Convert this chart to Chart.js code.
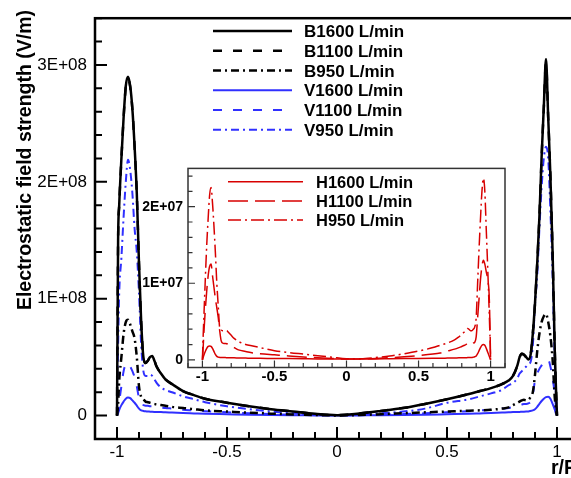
<!DOCTYPE html>
<html lang="en">

<head>
    <meta charset="UTF-8" />
    <title>Electrostatic field strength</title>
    <script src="https://cdn.jsdelivr.net/npm/chart.js"></script>
    <style>
        body {
            margin: 0;
            background: #fff;
        }

        .figure {
            position: relative;
            width: 571px;
            height: 478px;
            overflow: hidden;
        }

        #mainChart {
            position: absolute;
            left: 0;
            top: 0;
        }

        #insetChart {
            position: absolute;
            left: 130px;
            top: 155px;
        }
    </style>
</head>

<body>
    <div class="figure">
        <canvas id="mainChart" width="600" height="478"></canvas>
        <canvas id="insetChart" width="385" height="235"></canvas>
    </div>

    <script>
        // r/R positions shared by every curve
        const radius = [-1, -0.995, -0.99, -0.98, -0.97, -0.96, -0.95, -0.94, -0.93, -0.92, -0.91, -0.9,
            -0.89, -0.88, -0.87, -0.86, -0.85, -0.84, -0.83, -0.82, -0.8, -0.78, -0.75, -0.7, -0.65, -0.6,
            -0.5, -0.4, -0.3, -0.2, -0.1, 0,
            0.1, 0.2, 0.3, 0.4, 0.5, 0.6, 0.65, 0.7, 0.75, 0.78, 0.8, 0.82, 0.83, 0.84, 0.85, 0.86, 0.87,
            0.88, 0.89, 0.9, 0.91, 0.92, 0.93, 0.94, 0.95, 0.96, 0.97, 0.98, 0.99, 0.995, 1];

        // Main plot, values in 1E+08 V/m
        const b1600 = [0, 1.5, 1.8, 2.2, 2.55, 2.82, 2.9, 2.82, 2.62, 2.3, 1.9, 1.3,
            0.8, 0.5, 0.45, 0.47, 0.5, 0.51, 0.47, 0.42, 0.36, 0.31, 0.27, 0.21, 0.175, 0.145,
            0.11, 0.08, 0.055, 0.035, 0.015, 0.004,
            0.018, 0.04, 0.065, 0.1, 0.14, 0.185, 0.21, 0.235, 0.27, 0.3, 0.34, 0.43, 0.5, 0.53, 0.52, 0.5, 0.48,
            0.52, 0.7, 0.96, 1.3, 1.7, 2.21, 2.64, 3.05, 2.55, 2.05, 1.4, 0.55, 0.25, 0];
        const b1100 = [0, 1.5, 1.8, 2.2, 2.55, 2.81, 2.88, 2.81, 2.62, 2.3, 1.9, 1.3,
            0.8, 0.5, 0.45, 0.47, 0.5, 0.51, 0.47, 0.42, 0.36, 0.31, 0.27, 0.21, 0.175, 0.145,
            0.11, 0.08, 0.055, 0.035, 0.015, 0.004,
            0.018, 0.04, 0.065, 0.1, 0.14, 0.185, 0.21, 0.235, 0.27, 0.3, 0.34, 0.43, 0.5, 0.53, 0.52, 0.5, 0.48,
            0.52, 0.7, 0.96, 1.3, 1.7, 2.21, 2.63, 3.02, 2.55, 2.05, 1.4, 0.55, 0.25, 0];
        const b950 = [0, 0.1, 0.3, 0.5, 0.7, 0.8, 0.82, 0.78, 0.72, 0.66, 0.5, 0.25,
            0.16, 0.14, 0.12, 0.115, 0.11, 0.105, 0.1, 0.095, 0.09, 0.085, 0.075, 0.065, 0.055, 0.045,
            0.035, 0.025, 0.017, 0.01, 0.005, 0.002,
            0.005, 0.012, 0.02, 0.028, 0.035, 0.042, 0.045, 0.05, 0.06, 0.07, 0.09, 0.11, 0.12, 0.13, 0.135, 0.13, 0.135,
            0.16, 0.2, 0.35, 0.55, 0.7, 0.8, 0.85, 0.87, 0.8, 0.68, 0.48, 0.15, 0.06, 0];
        const v1600 = [0, 0.02, 0.05, 0.09, 0.12, 0.145, 0.155, 0.15, 0.13, 0.11, 0.085, 0.06,
            0.045, 0.04, 0.037, 0.035, 0.034, 0.033, 0.032, 0.031, 0.03, 0.028, 0.026, 0.022, 0.019, 0.016,
            0.012, 0.008, 0.005, 0.003, 0.002, 0.001,
            0.002, 0.003, 0.005, 0.008, 0.012, 0.016, 0.019, 0.022, 0.026, 0.028, 0.03, 0.031, 0.032, 0.033, 0.034, 0.035, 0.036,
            0.04, 0.045, 0.055, 0.075, 0.1, 0.125, 0.145, 0.158, 0.162, 0.145, 0.1, 0.05, 0.02, 0];
        const v1100 = [0, 0.05, 0.12, 0.25, 0.38, 0.44, 0.45, 0.42, 0.38, 0.33, 0.25, 0.15,
            0.1, 0.09, 0.085, 0.085, 0.08, 0.08, 0.078, 0.075, 0.07, 0.065, 0.06, 0.05, 0.045, 0.038,
            0.028, 0.02, 0.013, 0.008, 0.004, 0.002,
            0.004, 0.008, 0.013, 0.02, 0.028, 0.038, 0.045, 0.05, 0.06, 0.065, 0.075, 0.085, 0.09, 0.095, 0.1, 0.1, 0.105,
            0.12, 0.18, 0.3, 0.36, 0.4, 0.43, 0.46, 0.48, 0.48, 0.42, 0.32, 0.18, 0.08, 0];
        const v950 = [0, 0.6, 1.05, 1.35, 1.7, 2.0, 2.19, 2.1, 1.9, 1.6, 1.4, 1.05,
            0.6, 0.38, 0.34, 0.34, 0.35, 0.34, 0.31, 0.28, 0.24, 0.22, 0.2, 0.165, 0.14, 0.115,
            0.08, 0.055, 0.035, 0.02, 0.01, 0.003,
            0.01, 0.02, 0.035, 0.06, 0.11, 0.14, 0.165, 0.19, 0.22, 0.26, 0.28, 0.32, 0.36, 0.38, 0.4, 0.42, 0.44,
            0.46, 0.6, 0.95, 1.2, 1.6, 1.95, 2.2, 2.3, 2.2, 1.75, 1.2, 0.45, 0.18, 0];

        // Inset, values in 1E+07 V/m
        const h1600 = [0, 0.03, 0.06, 0.11, 0.15, 0.175, 0.18, 0.175, 0.15, 0.11, 0.07, 0.045,
            0.035, 0.032, 0.03, 0.03, 0.029, 0.029, 0.028, 0.028, 0.027, 0.026, 0.025, 0.023, 0.021, 0.02,
            0.018, 0.016, 0.014, 0.012, 0.011, 0.01,
            0.011, 0.012, 0.014, 0.016, 0.018, 0.02, 0.021, 0.023, 0.025, 0.026, 0.027, 0.028, 0.028, 0.029, 0.03, 0.03, 0.032,
            0.035, 0.04, 0.05, 0.08, 0.12, 0.16, 0.19, 0.2, 0.19, 0.15, 0.1, 0.05, 0.025, 0];
        const h1100 = [0, 0.15, 0.35, 0.65, 0.9, 1.1, 1.22, 1.25, 1.1, 0.95, 0.8, 0.68,
            0.55, 0.38, 0.25, 0.22, 0.215, 0.215, 0.21, 0.2, 0.18, 0.16, 0.13, 0.11, 0.09, 0.08,
            0.065, 0.05, 0.038, 0.028, 0.018, 0.01,
            0.01, 0.018, 0.028, 0.04, 0.055, 0.075, 0.09, 0.115, 0.14, 0.16, 0.175, 0.19, 0.2, 0.22, 0.22, 0.21, 0.21,
            0.22, 0.23, 0.3, 0.55, 0.8, 1.05, 1.22, 1.3, 1.25, 1.15, 1.05, 0.85, 0.5, 0];
        const h950 = [0, 0.3, 0.55, 1.05, 1.5, 1.85, 2.15, 2.25, 2.05, 1.75, 1.4, 1.0,
            0.7, 0.42, 0.39, 0.38, 0.38, 0.385, 0.38, 0.36, 0.32, 0.28, 0.24, 0.2, 0.18, 0.16,
            0.12, 0.095, 0.075, 0.055, 0.035, 0.015,
            0.015, 0.03, 0.05, 0.08, 0.115, 0.16, 0.19, 0.22, 0.26, 0.3, 0.33, 0.37, 0.39, 0.41, 0.4, 0.38, 0.38,
            0.4, 0.43, 0.55, 1.0, 1.45, 1.85, 2.2, 2.37, 2.2, 1.7, 1.2, 0.65, 0.35, 0];

        // Tick positions and labels
        const mainXTicks = [-1, -0.5, 0, 0.5, 1];
        const mainXLabels = ["-1", "-0.5", "0", "0.5", "1"];
        const mainYTicks = [0, 1e8, 2e8, 3e8];
        const mainYLabels = ["0", "1E+08", "2E+08", "3E+08"];
        const insetXTicks = [-1, -0.5, 0, 0.5, 1];
        const insetXLabels = ["-1", "-0.5", "0", "0.5", "1"];
        const insetYTicks = [0, 1e7, 2e7];
        const insetYLabels = ["0", "1E+07", "2E+07"];

        const mainNames = ["B1600 L/min", "B1100 L/min", "B950 L/min", "V1600 L/min", "V1100 L/min", "V950 L/min"];
        const insetNames = ["H1600 L/min", "H1100 L/min", "H950 L/min"];

        const FONT = "'Liberation Sans', Arial, sans-serif";
        const BLACK = "#000000";
        const BLUE = "#3030ff";
        const RED = "#d80000";

        function lineSet(label, values, unit, color, dash, width) {
            return {
                label: label,
                data: radius.map((r, i) => ({ x: r, y: values[i] * unit })),
                borderColor: color,
                borderDash: dash,
                borderWidth: width,
                pointRadius: 0,
                fill: false,
                cubicInterpolationMode: "monotone",
            };
        }

        // frame, inward ticks, legend and axis titles drawn on the canvas
        const figureFrame = {
            id: "figureFrame",
            beforeDraw(chart, args, opts) {
                if (!opts.background) return;
                const a = chart.chartArea;
                const ctx = chart.ctx;
                ctx.save();
                ctx.fillStyle = opts.background;
                ctx.fillRect(a.left, a.top, a.right - a.left, a.bottom - a.top);
                ctx.restore();
            },
            afterDraw(chart, args, opts) {
                const ctx = chart.ctx;
                const a = chart.chartArea;
                const xs = chart.scales.x;
                const ys = chart.scales.y;
                ctx.save();
                ctx.strokeStyle = opts.color;
                ctx.lineWidth = opts.tickWidth;
                ctx.beginPath();
                for (let k = Math.ceil(xs.min / opts.xMinor - 1e-6); k * opts.xMinor <= xs.max + 1e-9; k++) {
                    const v = k * opts.xMinor;
                    const q = v / opts.xMajor;
                    const len = Math.abs(q - Math.round(q)) < 1e-6 ? opts.major : opts.minor;
                    const px = xs.getPixelForValue(v);
                    ctx.moveTo(px, a.bottom);
                    ctx.lineTo(px, a.bottom - len);
                }
                for (let k = Math.ceil(ys.min / opts.yMinor - 1e-6); k * opts.yMinor <= ys.max + 1e-3; k++) {
                    const v = k * opts.yMinor;
                    const q = v / opts.yMajor;
                    const len = Math.abs(q - Math.round(q)) < 1e-6 ? opts.major : opts.minor;
                    const py = ys.getPixelForValue(v);
                    ctx.moveTo(a.left, py);
                    ctx.lineTo(a.left + len, py);
                }
                ctx.stroke();
                ctx.lineWidth = opts.frameWidth;
                ctx.strokeRect(a.left, a.top, a.right - a.left, a.bottom - a.top);

                // legend
                const lg = opts.legend;
                ctx.font = lg.font;
                ctx.fillStyle = "#000";
                ctx.textAlign = "left";
                ctx.textBaseline = "alphabetic";
                chart.data.datasets.forEach((ds, i) => {
                    const y = lg.y0 + i * lg.step;
                    ctx.strokeStyle = ds.borderColor;
                    ctx.lineWidth = ds.borderWidth;
                    ctx.setLineDash(ds.borderDash || []);
                    ctx.beginPath();
                    ctx.moveTo(lg.x0, y);
                    ctx.lineTo(lg.x1, y);
                    ctx.stroke();
                    ctx.setLineDash([]);
                    ctx.fillText(ds.label, lg.textX, y + lg.shift);
                });

                // axis titles
                (opts.titles || []).forEach((t) => {
                    ctx.save();
                    ctx.font = t.font;
                    ctx.fillStyle = "#000";
                    ctx.textAlign = t.align;
                    ctx.translate(t.x, t.y);
                    ctx.rotate(t.angle);
                    ctx.fillText(t.text, 0, 0);
                    ctx.restore();
                });
                ctx.restore();
            },
        };

        // Main chart configuration
        const mainConfig = {
            type: "line",
            data: {
                datasets: [
                    lineSet(mainNames[0], b1600, 1e8, BLACK, [], 2.5),
                    lineSet(mainNames[1], b1100, 1e8, BLACK, [9, 11], 2.5),
                    lineSet(mainNames[2], b950, 1e8, BLACK, [8, 4, 2, 4], 2.5),
                    lineSet(mainNames[3], v1600, 1e8, BLUE, [], 2),
                    lineSet(mainNames[4], v1100, 1e8, BLUE, [9, 11], 2),
                    lineSet(mainNames[5], v950, 1e8, BLUE, [8, 4, 2, 4], 2),
                ],
            },
            options: {
                responsive: false,
                animation: false,
                devicePixelRatio: 1,
                layout: { padding: { top: 9, right: 21, left: 0, bottom: 0 } },
                scales: {
                    x: {
                        type: "linear",
                        min: -1.1,
                        max: 1.1,
                        grid: { display: false, drawTicks: false },
                        border: { display: false },
                        afterBuildTicks: (scale) => { scale.ticks = mainXTicks.map((v) => ({ value: v })); },
                        afterFit: (scale) => { scale.height = 39; },
                        ticks: {
                            padding: 3,
                            autoSkip: false,
                            maxRotation: 0,
                            color: "#000",
                            font: { family: FONT, size: 17 },
                            callback: (v, i) => mainXLabels[i],
                        },
                    },
                    y: {
                        type: "linear",
                        min: -2e7,
                        max: 3.4e8,
                        grid: { display: false, drawTicks: false },
                        border: { display: false },
                        afterBuildTicks: (scale) => { scale.ticks = mainYTicks.map((v) => ({ value: v })); },
                        afterFit: (scale) => { scale.width = 95; },
                        ticks: {
                            padding: 8,
                            autoSkip: false,
                            color: "#000",
                            font: { family: FONT, size: 17 },
                            callback: (v, i) => mainYLabels[i],
                        },
                    },
                },
                plugins: {
                    legend: { display: false },
                    tooltip: { enabled: false },
                    figureFrame: {
                        color: "#000",
                        tickWidth: 2,
                        frameWidth: 2.5,
                        major: 12,
                        minor: 7,
                        xMajor: 0.5,
                        xMinor: 0.1,
                        yMajor: 1e8,
                        yMinor: 2e7,
                        legend: { x0: 213, x1: 292, textX: 304, y0: 31, step: 19.75, shift: 6, font: "bold 17px " + FONT },
                        titles: [
                            { text: "Electrostatic field strength (V/m)", x: 31, y: 160, angle: -Math.PI / 2, align: "center", font: "bold 19.5px " + FONT },
                            { text: "r/R", x: 551, y: 474, angle: 0, align: "left", font: "bold 19.5px " + FONT },
                        ],
                    },
                },
            },
            plugins: [figureFrame],
        };

        // Inset chart configuration
        const insetConfig = {
            type: "line",
            data: {
                datasets: [
                    lineSet(insetNames[0], h1600, 1e7, RED, [], 1.5),
                    lineSet(insetNames[1], h1100, 1e7, RED, [20, 7], 1.5),
                    lineSet(insetNames[2], h950, 1e7, RED, [13, 4, 2, 4], 1.5),
                ],
            },
            options: {
                responsive: false,
                animation: false,
                devicePixelRatio: 1,
                layout: { padding: { top: 8, right: 10, left: 0, bottom: 0 } },
                scales: {
                    x: {
                        type: "linear",
                        min: -1.1,
                        max: 1.1,
                        grid: { display: false, drawTicks: false },
                        border: { display: false },
                        afterBuildTicks: (scale) => { scale.ticks = insetXTicks.map((v) => ({ value: v })); },
                        afterFit: (scale) => { scale.height = 22.5; },
                        ticks: {
                            padding: 0,
                            autoSkip: false,
                            maxRotation: 0,
                            color: "#000",
                            font: { family: FONT, size: 15, weight: "bold" },
                            callback: (v, i) => insetXLabels[i],
                        },
                    },
                    y: {
                        type: "linear",
                        min: -1e6,
                        max: 2.5e7,
                        grid: { display: false, drawTicks: false },
                        border: { display: false },
                        afterBuildTicks: (scale) => { scale.ticks = insetYTicks.map((v) => ({ value: v })); },
                        afterFit: (scale) => { scale.width = 58; },
                        ticks: {
                            padding: 5,
                            autoSkip: false,
                            color: "#000",
                            font: { family: FONT, size: 14, weight: "bold" },
                            callback: (v, i) => insetYLabels[i],
                        },
                    },
                },
                plugins: {
                    legend: { display: false },
                    tooltip: { enabled: false },
                    figureFrame: {
                        background: "#ffffff",
                        color: "#333",
                        tickWidth: 1.2,
                        frameWidth: 1.5,
                        major: 7,
                        minor: 4.5,
                        xMajor: 0.5,
                        xMinor: 0.1,
                        yMajor: 1e7,
                        yMinor: 2e6,
                        legend: { x0: 98, x1: 173, textX: 186, y0: 26.7, step: 19.2, shift: 6, font: "bold 16.5px " + FONT },
                    },
                },
            },
            plugins: [figureFrame],
        };

        // Render Charts
        window.onload = function () {
            new Chart(document.getElementById("mainChart").getContext("2d"), mainConfig);
            new Chart(document.getElementById("insetChart").getContext("2d"), insetConfig);
        };
    </script>
</body>

</html>
